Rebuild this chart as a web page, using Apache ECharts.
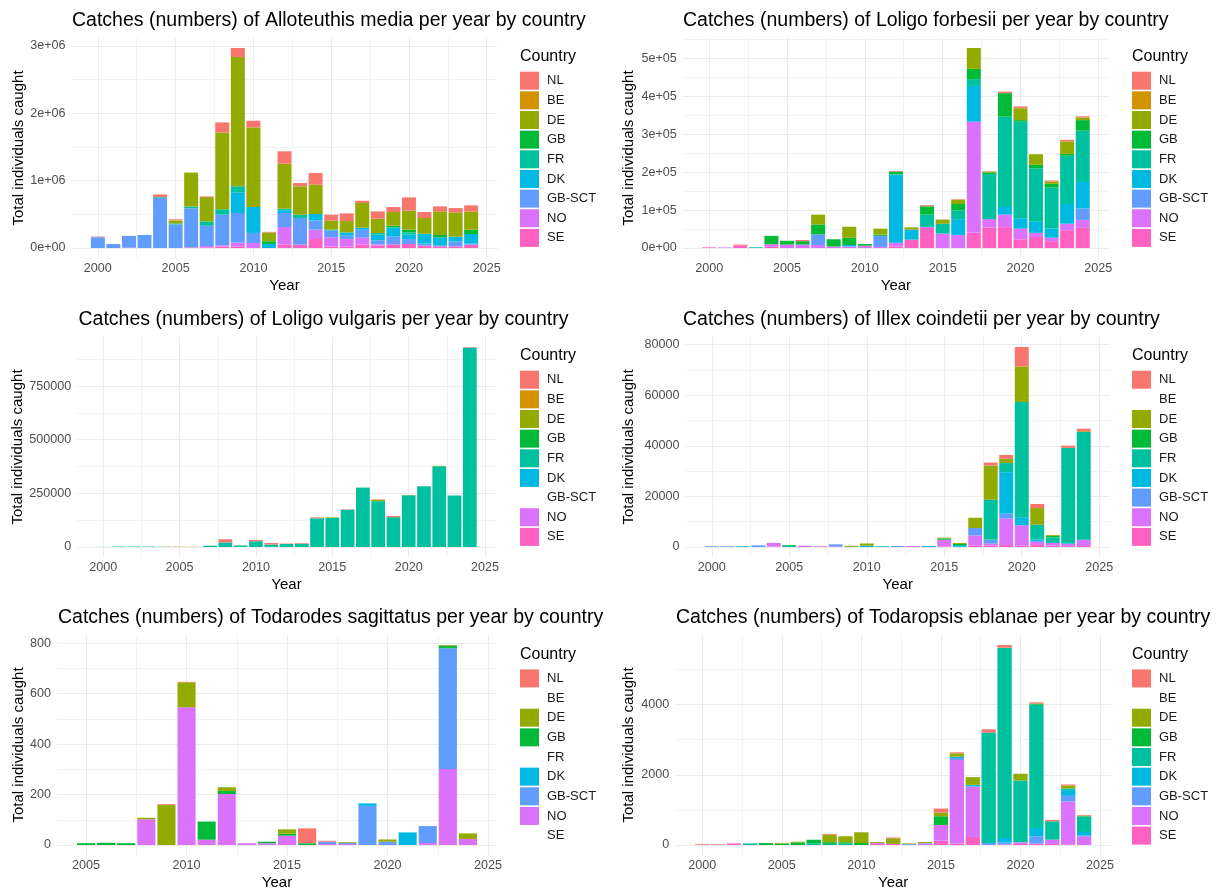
<!DOCTYPE html>
<html><head><meta charset="utf-8">
<script src="https://cdn.jsdelivr.net/npm/echarts@6/dist/echarts.min.js"></script>
<style>html,body{margin:0;padding:0;background:#fff}#c{width:1216px;height:891px}</style>
</head><body><div id="c"></div>
<script>
// ---------- data ----------
const countries = ['NL','BE','DE','GB','FR','DK','GB-SCT','NO','SE'];
const countryColors = ['#F8766D','#D39200','#93AA00','#00BA38','#00C19F','#00B9E3','#619CFF','#DB72FB','#FF61C3'];

// Alloteuthis media
const amYears = [2000,2001,2002,2003,2004,2005,2006,2007,2008,2009,2010,2011,2012,2013,2014,2015,2016,2017,2018,2019,2020,2021,2022,2023,2024];
const amNL = [10000,0,0,0,40000,15000,0,10000,150000,133000,100000,10000,184000,49000,174000,90000,114000,34000,109000,74000,197000,89000,74000,64000,89000];
const amBE = [0,0,0,0,0,5000,0,0,0,0,0,0,0,0,0,0,0,0,0,0,0,0,0,0,0];
const amDE = [0,0,0,0,0,40000,505000,361000,1140000,1920000,1180000,130000,668000,421000,435000,133000,167000,366000,213000,203000,282000,233000,351000,361000,272000];
const amGB = [0,0,0,0,0,0,0,0,0,0,0,40000,0,0,0,0,0,0,0,25000,39000,0,35000,0,64000];
const amFR = [0,0,0,0,10000,15000,25000,65000,80000,90000,0,0,24000,49000,0,0,10000,0,24000,0,35000,0,0,0,0];
const amDK = [0,0,0,0,0,0,0,0,0,307000,386000,60000,40000,0,95000,14000,40000,30000,84000,133000,65000,148000,123000,69000,144000];
const amGBSCT = [160000,60000,175000,193000,745000,350000,580000,300000,455000,440000,150000,0,208000,396000,138000,100000,50000,119000,59000,119000,74000,29000,10000,74000,15000];
const amNO = [0,0,5000,0,0,0,0,20000,20000,55000,74000,0,262000,0,138000,138000,113000,103000,20000,0,0,0,0,0,0];
const amSE = [0,0,0,0,0,0,10000,10000,20000,25000,0,0,50000,50000,134000,20000,20000,50000,35000,54000,59000,35000,25000,25000,49000];
const amYTicks = [0,1000000,2000000,3000000];
const amYLabels = ['0e+00','1e+06','2e+06','3e+06'];

// Loligo forbesii
const lfYears = [2000,2001,2002,2003,2004,2005,2006,2007,2008,2009,2010,2011,2012,2013,2014,2015,2016,2017,2018,2019,2020,2021,2022,2023,2024];
const lfNL = [500,0,2000,0,0,0,3000,0,0,0,0,0,1500,0,2800,0,1500,0,1000,4000,4000,0,3000,4000,3000];
const lfBE = [0,0,0,0,0,0,0,0,0,0,0,0,0,0,0,0,0,0,0,0,1000,0,0,0,0];
const lfDE = [0,0,0,0,0,0,0,26000,0,29000,0,16000,0,6000,0,11000,11000,55000,2500,0,31000,28000,6000,33000,7000];
const lfGB = [0,0,0,0,22000,10000,9000,26000,19000,19000,4500,3000,7500,0,22000,0,17000,27000,4000,62000,4000,9000,10000,5000,28000];
const lfFR = [0,0,0,2000,0,0,0,0,0,0,0,0,0,0,32500,26000,23000,18000,119000,238000,256000,141000,108000,127000,135000];
const lfDK = [0,0,0,0,0,0,0,0,0,4000,0,0,180000,26500,0,0,42000,94000,0,20000,26000,29000,24000,52000,70000];
const lfGBSCT = [0,0,0,0,0,0,0,28000,0,0,0,29000,0,0,0,0,0,0,0,0,0,0,0,0,30000];
const lfNO = [0,1500,0,0,7000,9000,9000,8000,4000,4000,6000,3000,10000,0,2500,38000,34000,293000,22000,33000,28000,11000,9000,17000,21000];
const lfSE = [1500,0,7000,0,3000,0,0,0,0,0,0,0,4000,22000,53000,0,0,40000,54000,55000,23000,29000,18000,47000,53000];
const lfYTicks = [0,100000,200000,300000,400000,500000];
const lfYLabels = ['0e+00','1e+05','2e+05','3e+05','4e+05','5e+05'];

// Loligo vulgaris
const lvYears = [2000,2001,2002,2003,2004,2005,2006,2007,2008,2009,2010,2011,2012,2013,2014,2015,2016,2017,2018,2019,2020,2021,2022,2023,2024];
const lvNL = [0,0,0,0,0,0,0,0,15000,0,6000,7000,2000,3000,4000,0,2000,0,2000,6000,0,0,0,0,3000];
const lvBE = [0,0,0,0,500,1500,800,0,0,0,0,0,0,0,0,0,0,0,0,0,0,0,0,0,0];
const lvDE = [0,0,0,0,0,0,0,0,0,0,0,0,0,0,0,3000,0,0,6000,0,1500,0,2000,0,0];
const lvGB = [0,0,0,0,0,0,0,0,0,0,0,0,0,0,0,0,0,0,1000,0,0,0,0,0,0];
const lvFR = [500,2000,2000,2000,1000,0,0,6000,21000,7000,27000,11000,14000,15000,134000,135000,174000,277000,213000,139000,241000,283000,376000,240000,929000];
const lvDK = [0,0,0,0,0,0,0,0,0,500,0,0,0,0,0,0,0,0,0,0,0,0,0,0,0];
const lvGBSCT = [0,0,0,0,0,0,0,0,0,0,0,0,0,0,0,0,0,0,0,0,0,0,0,0,0];
const lvNO = [0,0,0,0,0,0,0,0,0,0,0,500,0,0,0,0,0,0,0,0,0,0,0,0,0];
const lvSE = [0,0,0,0,0,0,500,0,0,0,0,0,0,0,0,0,0,0,0,0,0,0,0,0,0];
const lvYTicks = [0,250000,500000,750000];
const lvYLabels = ['0','250000','500000','750000'];

// Illex coindetii
const icYears = [2000,2001,2002,2003,2004,2005,2006,2007,2008,2009,2010,2011,2012,2013,2014,2015,2016,2017,2018,2019,2020,2021,2022,2023,2024];
const icNL = [0,0,0,0,0,0,0,0,0,0,0,0,0,0,0,0,0,0,1200,1500,7700,1600,0,900,1000];
const icBE = [0,0,0,0,0,0,0,0,0,0,0,0,0,0,0,0,0,0,0,0,0,0,0,0,0];
const icDE = [0,0,0,0,0,0,0,0,0,300,900,0,0,0,0,300,400,4070,13500,1700,14100,6600,340,0,300];
const icGB = [0,0,0,0,0,300,0,0,0,200,0,0,0,0,0,500,400,0,0,0,0,0,600,0,0];
const icFR = [0,0,0,0,0,500,0,0,0,0,0,300,0,0,0,0,500,0,15800,3600,45700,5800,2200,37600,42600];
const icDK = [0,0,300,0,0,0,0,0,0,0,500,0,0,0,400,0,300,0,0,16400,3000,600,0,300,0];
const icGBSCT = [300,300,0,650,0,0,0,0,800,0,0,0,400,0,0,0,0,2900,1600,2000,0,400,0,0,0];
const icNO = [0,0,0,0,1400,0,500,300,250,0,0,0,0,400,0,2700,0,4100,800,10400,8100,1200,1100,1000,2500];
const icSE = [0,0,0,0,200,0,0,0,0,0,0,0,0,0,0,200,0,500,500,800,500,800,500,300,400];
const icYTicks = [0,20000,40000,60000,80000];
const icYLabels = ['0','20000','40000','60000','80000'];

// Todarodes sagittatus
const tsYears = [2005,2006,2007,2008,2009,2010,2011,2012,2013,2014,2015,2016,2017,2018,2019,2020,2021,2022,2023,2024];
const tsNL = [0,0,0,0,3,2,0,0,0,0,0,59,4,0,0,0,0,0,0,0];
const tsBE = [0,0,0,0,0,0,0,0,0,0,0,0,0,0,0,0,0,0,0,0];
const tsDE = [0,0,0,6,159,99,0,15,0,0,17,0,0,3,0,9,0,0,3,22];
const tsGB = [7,9,7,0,0,0,72,12,0,6,8,7,0,0,0,0,0,0,10,0];
const tsFR = [0,0,0,0,0,0,0,0,0,0,0,0,0,0,0,0,0,0,0,0];
const tsDK = [0,0,0,0,0,0,0,0,0,0,0,0,0,0,10,0,50,0,0,0];
const tsGBSCT = [0,0,0,0,0,0,0,0,0,0,0,0,9,4,155,13,0,67,479,0];
const tsNO = [0,0,0,102,0,546,21,202,7,7,37,0,4,4,0,0,0,8,301,24];
const tsSE = [0,0,0,0,0,0,0,0,0,0,0,0,0,0,0,0,0,0,0,0];
const tsYTicks = [0,200,400,600,800];
const tsYLabels = ['0','200','400','600','800'];

// Todaropsis eblanae
const teYears = [2000,2001,2002,2003,2004,2005,2006,2007,2008,2009,2010,2011,2012,2013,2014,2015,2016,2017,2018,2019,2020,2021,2022,2023,2024];
const teNL = [20,20,0,0,0,0,0,0,25,0,0,0,25,0,0,114,28,0,95,76,0,36,38,29,19];
const teBE = [0,0,0,0,0,0,0,0,0,0,0,0,0,0,0,0,0,0,0,0,0,0,0,0,0];
const teDE = [0,0,0,0,0,20,25,0,210,170,305,25,160,20,30,105,96,219,0,0,190,0,0,85,19];
const teGB = [0,0,0,0,55,40,70,100,50,40,57,0,0,0,0,248,0,0,0,0,0,30,0,0,0];
const teFR = [0,0,0,45,0,0,0,50,30,40,0,0,0,0,0,0,0,0,3140,5419,1762,3510,524,48,448];
const teDK = [0,0,0,0,0,0,0,0,0,0,0,0,0,0,0,0,38,47,0,130,0,238,0,162,93];
const teGBSCT = [0,0,0,0,0,0,0,0,0,0,0,0,0,25,15,0,57,0,60,50,0,208,0,162,40];
const teNO = [0,0,0,0,0,0,0,0,0,0,0,30,0,0,40,447,2379,1438,0,0,46,0,122,1218,238];
const teSE = [10,0,45,0,0,0,0,0,0,0,0,30,30,0,0,124,40,229,0,20,30,40,30,20,0];
const teYTicks = [0,2000,4000];
const teYLabels = ['0','2000','4000'];

const xTicks2000 = [2000,2005,2010,2015,2020,2025];
const xTicks2005 = [2005,2010,2015,2020,2025];

// ---------- assembly ----------
const panels = [
  {title:'Catches (numbers) of Alloteuthis media per year by country', years:amYears, vals:[amNL,amBE,amDE,amGB,amFR,amDK,amGBSCT,amNO,amSE], yTicks:amYTicks, yLabels:amYLabels, xTicks:xTicks2000},
  {title:'Catches (numbers) of Loligo forbesii per year by country', years:lfYears, vals:[lfNL,lfBE,lfDE,lfGB,lfFR,lfDK,lfGBSCT,lfNO,lfSE], yTicks:lfYTicks, yLabels:lfYLabels, xTicks:xTicks2000},
  {title:'Catches (numbers) of Loligo vulgaris per year by country', years:lvYears, vals:[lvNL,lvBE,lvDE,lvGB,lvFR,lvDK,lvGBSCT,lvNO,lvSE], yTicks:lvYTicks, yLabels:lvYLabels, xTicks:xTicks2000},
  {title:'Catches (numbers) of Illex coindetii per year by country', years:icYears, vals:[icNL,icBE,icDE,icGB,icFR,icDK,icGBSCT,icNO,icSE], yTicks:icYTicks, yLabels:icYLabels, xTicks:xTicks2000},
  {title:'Catches (numbers) of Todarodes sagittatus per year by country', years:tsYears, vals:[tsNL,tsBE,tsDE,tsGB,tsFR,tsDK,tsGBSCT,tsNO,tsSE], yTicks:tsYTicks, yLabels:tsYLabels, xTicks:xTicks2005},
  {title:'Catches (numbers) of Todaropsis eblanae per year by country', years:teYears, vals:[teNL,teBE,teDE,teGB,teFR,teDK,teGBSCT,teNO,teSE], yTicks:teYTicks, yLabels:teYLabels, xTicks:xTicks2000}
];

// layout (pixels)
const rowTop = [38, 337, 635];
const rowTitleTop = [10.5, 309.5, 608];
const rowCountryTop = [49, 348, 646.5];
const rowLegendTop = [71.7, 370.7, 669.4];
const layout = [
  {left:71.5, width:426, row:0, titleLeft:72, nameGap:45.5, legendLeft:520},
  {left:682.8, width:426.3, row:0, titleLeft:683, nameGap:46.7, legendLeft:1132},
  {left:77.3, width:418.4, row:1, titleLeft:78.5, nameGap:51.3, legendLeft:520},
  {left:685.5, width:424.5, row:1, titleLeft:683, nameGap:49.5, legendLeft:1132},
  {left:57, width:440, row:2, titleLeft:58, nameGap:31, legendLeft:520},
  {left:675.3, width:435.8, row:2, titleLeft:676, nameGap:39.3, legendLeft:1132}
];
const FONT = "'Liberation Sans', Arial, sans-serif";
const GRID_MAJOR = '#EBEBEB', GRID_MINOR = '#F2F2F2';

function minorsOf(ticks, lo, hi) {
  const out = [];
  const step = ticks[1] - ticks[0];
  const cand = [ticks[0] - step / 2];
  for (let k = 0; k < ticks.length; k++) cand.push(ticks[k] + step / 2);
  cand.forEach(v => { if (v > lo && v < hi) out.push(v); });
  return out;
}

const grids = [], xAxes = [], yAxes = [], series = [], legends = [], titles = [];
panels.forEach((p, i) => {
  const L = layout[i];
  const nY = p.years.length;
  const totals = p.years.map((_, k) => p.vals.reduce((s, arr) => s + arr[k], 0));
  const maxT = Math.max(...totals);
  const y0 = -0.05 * maxT, y1 = 1.05 * maxT;
  const span = (p.years[nY - 1] - p.years[0]) + 0.9;
  const x0 = p.years[0] - 0.45 - 0.05 * span, x1 = p.years[nY - 1] + 0.45 + 0.05 * span;

  grids.push({left: L.left, top: rowTop[L.row], width: L.width, height: 220, containLabel: false});
  xAxes.push({
    type: 'value', gridIndex: i, min: x0, max: x1,
    axisLine: {show: false}, axisTick: {show: false}, splitLine: {show: false},
    axisLabel: {customValues: p.xTicks, formatter: v => String(v), fontSize: 12.6, color: '#4D4D4D', margin: 4, fontFamily: FONT},
    name: 'Year', nameLocation: 'middle', nameGap: 20,
    nameTextStyle: {fontSize: 15, color: '#000', fontFamily: FONT}
  });
  yAxes.push({
    type: 'value', gridIndex: i, min: y0, max: y1,
    axisLine: {show: false}, axisTick: {show: false}, splitLine: {show: false},
    axisLabel: {customValues: p.yTicks, formatter: v => p.yLabels[p.yTicks.indexOf(v)], fontSize: 12.6, color: '#4D4D4D', margin: 6, fontFamily: FONT},
    name: 'Total individuals caught', nameLocation: 'middle', nameRotate: 90, nameGap: L.nameGap,
    nameTextStyle: {fontSize: 15, color: '#000', fontFamily: FONT}
  });

  // gridlines
  const ml = [];
  minorsOf(p.xTicks, x0, x1).forEach(v => ml.push({xAxis: v, lineStyle: {color: GRID_MINOR, width: 1}}));
  minorsOf(p.yTicks, y0, y1).forEach(v => ml.push({yAxis: v, lineStyle: {color: GRID_MINOR, width: 1}}));
  p.xTicks.forEach(v => { if (v > x0 && v < x1) ml.push({xAxis: v, lineStyle: {color: GRID_MAJOR, width: 1}}); });
  p.yTicks.forEach(v => { if (v > y0 && v < y1) ml.push({yAxis: v, lineStyle: {color: GRID_MAJOR, width: 1}}); });
  series.push({
    type: 'line', name: 'grid' + i, xAxisIndex: i, yAxisIndex: i, data: [], silent: true, z: 0,
    markLine: {silent: true, z: 0, symbol: ['none', 'none'], animation: false, label: {show: false},
      emphasis: {disabled: true}, lineStyle: {type: 'solid'}, data: ml}
  });

  // stacked bars: bottom = last country (SE), top = first (NL)
  for (let c = countries.length - 1; c >= 0; c--) {
    series.push({
      type: 'bar', name: countries[c], xAxisIndex: i, yAxisIndex: i, stack: 'st' + i,
      barWidth: '90%', silent: true, z: 2,
      itemStyle: {color: countryColors[c]},
      encode: {x: 1, y: 0},
      data: p.years.map((yr, k) => [p.vals[c][k], yr])
    });
  }

  legends.push({
    orient: 'vertical', left: L.legendLeft, top: rowLegendTop[L.row], padding: 0,
    itemWidth: 19, itemHeight: 18, itemGap: 1.65, icon: 'rect', selectedMode: false,
    textStyle: {fontSize: 13, color: '#1A1A1A', fontFamily: FONT, padding: [0, 0, 0, 3]},
    data: countries.map((c, k) => p.vals[k].some(v => v > 0) ? {name: c} : {name: c, itemStyle: {opacity: 0}})
  });

  titles.push({text: p.title, left: L.titleLeft, top: rowTitleTop[L.row], padding: 0,
    textStyle: {fontSize: 19.5, fontWeight: 'normal', color: '#000', fontFamily: FONT}});
  titles.push({text: 'Country', left: L.legendLeft, top: rowCountryTop[L.row], padding: 0,
    textStyle: {fontSize: 16, fontWeight: 'normal', color: '#000', fontFamily: FONT}});
});

const chart = echarts.init(document.getElementById('c'), null, {renderer: 'canvas'});
chart.setOption({
  backgroundColor: '#fff',
  animation: false,
  title: titles,
  grid: grids,
  xAxis: xAxes,
  yAxis: yAxes,
  legend: legends,
  series: series
});
</script>
</body></html>
